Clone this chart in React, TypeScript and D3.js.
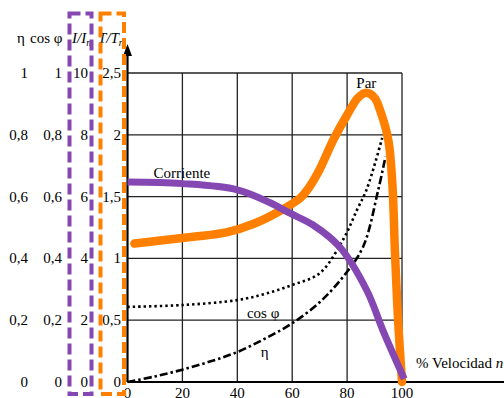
import React from "react";
import * as d3 from "d3";

const xTicks = [0, 20, 40, 60, 80, 100];
const tickValues = [0, 0.2, 0.4, 0.6, 0.8, 1];
const etaTickLabels = ["0", "0,2", "0,4", "0,6", "0,8", "1"];
const cosTickLabels = ["0", "0,2", "0,4", "0,6", "0,8", "1"];
const iTickLabels = ["0", "2", "4", "6", "8", "10"];
const tTickLabels = ["0", "0,5", "1", "1,5", "2", "2,5"];

// Par (T/Tn) vs % velocidad
const parX = [2.5, 12, 24, 36, 46, 56, 63, 66, 70, 75, 80, 84, 87, 90, 92, 95, 96.5, 97.4, 98.2, 99, 100];
const parY = [1.12, 1.145, 1.175, 1.21, 1.28, 1.39, 1.49, 1.57, 1.72, 1.96, 2.16, 2.3, 2.34, 2.3, 2.2, 1.96, 1.6, 1.07, 0.66, 0.34, 0.0];

// Corriente (I/In)
const curX = [0, 20, 40, 52, 59, 67.6, 77.4, 87.2, 93, 99.3, 100.8];
const curY = [6.47, 6.42, 6.22, 5.8, 5.47, 5.08, 4.36, 2.96, 1.68, 0.4, 0.1];

// cos φ
const cosX = [0, 20, 40, 50, 60, 70, 78.5, 83.6, 87.2, 92.8];
const cosY = [0.243, 0.249, 0.265, 0.285, 0.314, 0.352, 0.46, 0.557, 0.625, 0.79];

// η
const etaX = [0, 10, 20, 30, 40, 50, 60, 70, 78.5, 85.8, 91.3, 94];
const etaY = [0, 0.018, 0.04, 0.066, 0.097, 0.14, 0.19, 0.258, 0.34, 0.437, 0.62, 0.73];

const W = 504;
const H = 398;
const FONT = '"Liberation Serif", "DejaVu Serif", serif';
const ORANGE = "#FF8000";
const PURPLE = "#8548B2";

export default function App() {
  const x = d3.scaleLinear().domain([0, 100]).range([127.5, 402]);
  const yT = d3.scaleLinear().domain([0, 2.5]).range([382, 73]);
  const yI = d3.scaleLinear().domain([0, 10]).range([382, 73]);
  const yC = d3.scaleLinear().domain([0, 1]).range([382, 73]);

  const mk = (xs: number[], ys: number[], ys2: d3.ScaleLinear<number, number>) =>
    d3
      .line<number>()
      .x((_, i) => x(xs[i]))
      .y((_, i) => ys2(ys[i]))
      .curve(d3.curveCatmullRom.alpha(0.5))(xs) || "";

  const parPath = mk(parX, parY, yT);
  const curPath = mk(curX, curY, yI);
  const cosPath = mk(cosX, cosY, yC);
  const etaPath = mk(etaX, etaY, yC);

  const gridY = [0.5, 1, 1.5, 2, 2.5];
  const gridX = [20, 40, 60, 80, 100];
  const ts: React.CSSProperties = { fontFamily: FONT, fontSize: 15 };

  return (
    <svg width={W} height={H} style={{ position: "absolute", left: 0, top: 0, background: "#fff", fontFamily: FONT }}>
      <rect x={0} y={0} width={W} height={H} fill="#fff" />
      {/* grid */}
      {gridY.map((v) => (
        <line key={"gy" + v} x1={x(0)} x2={x(100)} y1={yT(v)} y2={yT(v)} stroke="#222" strokeWidth={1.3} />
      ))}
      {gridX.map((v) => (
        <line key={"gx" + v} x1={x(v)} x2={x(v)} y1={yT(0)} y2={yT(2.5)} stroke="#222" strokeWidth={1.3} />
      ))}
      {/* axes */}
      <line x1={x(0)} x2={W} y1={yT(0)} y2={yT(0)} stroke="#000" strokeWidth={2.2} />
      <line x1={x(0)} x2={x(0)} y1={yT(0)} y2={52} stroke="#000" strokeWidth={2.2} />
      <path d={`M${x(0)},44 L${x(0) - 4.5},56 L${x(0) + 4.5},56 Z`} fill="#000" />

      {/* curves */}
      <path d={cosPath} fill="none" stroke="#000" strokeWidth={2.6} strokeDasharray="2.4,3" />
      <path d={etaPath} fill="none" stroke="#000" strokeWidth={2.6} strokeDasharray="8,3,2.5,3" />
      <path d={parPath} fill="none" stroke={ORANGE} strokeWidth={8.5} strokeLinecap="round" strokeLinejoin="round" />
      <path d={curPath} fill="none" stroke={PURPLE} strokeWidth={7} strokeLinejoin="round" />

      {/* curve labels */}
      <text x={x(87)} y={yT(2.38)} style={ts} textAnchor="middle">Par</text>
      <text x={x(9.5)} y={yT(1.65)} style={ts}>Corriente</text>
      <text x={x(43.5)} y={yT(0.52)} style={ts}>cos φ</text>
      <text x={x(48.5)} y={yT(0.2)} style={ts}>η</text>
      <text x={416} y={368} style={ts}>
        % Velocidad <tspan fontStyle="italic">n</tspan>
      </text>

      {/* x tick labels */}
      {xTicks.map((v) => (
        <text key={"xt" + v} x={x(v)} y={398} style={ts} textAnchor="middle">{v}</text>
      ))}

      {/* y tick labels */}
      {tickValues.map((v, i) => (
        <g key={"yt" + i}>
          <text x={28} y={yC(v) + 5} style={ts} textAnchor="end">{etaTickLabels[i]}</text>
          <text x={62} y={yC(v) + 5} style={ts} textAnchor="end">{cosTickLabels[i]}</text>
          <text x={88} y={yC(v) + 5} style={ts} textAnchor="end">{iTickLabels[i]}</text>
          <text x={121} y={yC(v) + 5} style={ts} textAnchor="end">{tTickLabels[i]}</text>
        </g>
      ))}

      {/* header */}
      <text x={17} y={43} style={ts}>η</text>
      <text x={30} y={43} style={ts}>cos φ</text>
      <text x={72} y={43} style={{ ...ts, fontStyle: "italic" }}>
        I/I<tspan fontSize={10} dy={3}>n</tspan>
      </text>
      <text x={98} y={43} style={{ ...ts, fontStyle: "italic" }}>
        T/T<tspan fontSize={10} dy={3}>n</tspan>
      </text>

      {/* highlight boxes */}
      <rect x={69.5} y={13.5} width={22} height={380.5} fill="none" stroke={PURPLE} strokeWidth={4} strokeDasharray="11,5" />
      <rect x={100.5} y={13.5} width={23.5} height={380.5} fill="none" stroke={ORANGE} strokeWidth={4} strokeDasharray="11,5" />
    </svg>
  );
}
